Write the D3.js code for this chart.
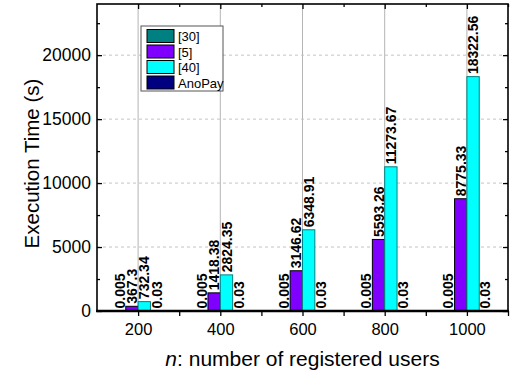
<!DOCTYPE html>
<html>
<head>
<meta charset="utf-8">
<script src="https://cdn.jsdelivr.net/npm/d3@7"></script>
<style>
  html, body { margin: 0; padding: 0; background: #fff; }
  svg { display: block; font-family: "Liberation Sans", Arial, Helvetica, sans-serif; }
</style>
</head>
<body>
<svg id="chart" width="514" height="375"></svg>
<script>
// Number of registered users on the x axis
const users = [200, 400, 600, 800, 1000];

// Execution time in seconds for each scheme
const seriesNames = ["[30]", "[5]", "[40]", "AnoPay"];
const timesRef30 = [0.005, 0.005, 0.005, 0.005, 0.005];
const timesRef5 = [367.3, 1418.38, 3146.62, 5593.26, 8775.33];
const timesRef40 = [732.34, 2824.35, 6348.91, 11273.67, 18322.56];
const timesAnoPay = [0.03, 0.03, 0.03, 0.03, 0.03];

const yMajorTicks = [0, 5000, 10000, 15000, 20000];
const yMinorTicks = [2500, 7500, 12500, 17500, 22500];
const xMajorTicks = [200, 400, 600, 800, 1000];
const xMinorTicks = [300, 500, 700, 900, 1100];

const fills = ["#008080", "#8000ff", "#00ffff", "#000080"];
const strokes = ["#004848", "#000000", "#008080", "#000000"];

const allSeries = [timesRef30, timesRef5, timesRef40, timesAnoPay];

const svg = d3.select("#chart");
const plotLeft = 97, plotRight = 508, plotTop = 4, plotBottom = 311;

const x = d3.scaleLinear().domain([100, 1100]).range([plotLeft, plotRight]);
const y = d3.scaleLinear().domain([0, 24000]).range([plotBottom, plotTop]);
const barUnits = 30; // bar width in x-axis units

// Grid lines
const grid = svg.append("g");
grid.selectAll("line.v").data(xMajorTicks).join("line")
  .attr("x1", d => x(d)).attr("x2", d => x(d))
  .attr("y1", plotTop).attr("y2", plotBottom)
  .attr("stroke", "#b4b4b4").attr("stroke-width", 1);
grid.selectAll("line.h").data(yMajorTicks.filter(d => d > 0)).join("line")
  .attr("x1", plotLeft).attr("x2", plotRight)
  .attr("y1", d => y(d)).attr("y2", d => y(d))
  .attr("stroke", "#c4c4c4").attr("stroke-width", 1)
  .attr("stroke-dasharray", "3,3");

// Bars
const bars = svg.append("g");
allSeries.forEach((vals, si) => {
  const g = bars.append("g");
  g.selectAll("rect").data(vals.map((v, i) => ({ v, c: users[i] }))).join("rect")
    .attr("x", d => x(d.c + (si - 2) * barUnits))
    .attr("width", d => x(d.c + (si - 1) * barUnits) - x(d.c + (si - 2) * barUnits))
    .attr("y", d => y(d.v))
    .attr("height", d => y(0) - y(d.v))
    .attr("fill", fills[si])
    .attr("stroke", strokes[si])
    .attr("stroke-width", 1);
});

// Value labels above each bar
const labels = svg.append("g")
  .attr("font-weight", "bold").attr("font-size", 14).attr("fill", "#000");
allSeries.forEach((vals, si) => {
  labels.selectAll(null).data(vals.map((v, i) => ({ v, c: users[i] }))).join("text")
    .attr("transform", d => {
      const cx = x(d.c + (si - 1.5) * barUnits);
      return `translate(${cx},${y(d.v) - 2.5}) rotate(-90)`;
    })
    .attr("dy", "0.36em")
    .attr("text-anchor", "start")
    .text(d => String(d.v));
});

// Axes
const axisLeft = svg.append("g").attr("transform", `translate(${plotLeft},0)`)
  .call(d3.axisLeft(y).tickValues(yMajorTicks).tickSize(-5).tickPadding(6).tickFormat(d3.format("d")));
svg.append("g").attr("transform", `translate(${plotLeft},0)`)
  .call(d3.axisLeft(y).tickValues(yMinorTicks).tickSize(-3).tickFormat(""));
svg.append("g").attr("transform", `translate(${plotRight},0)`)
  .call(d3.axisRight(y).tickValues(yMajorTicks).tickSize(-5).tickFormat(""));
svg.append("g").attr("transform", `translate(${plotRight},0)`)
  .call(d3.axisRight(y).tickValues(yMinorTicks).tickSize(-3).tickFormat(""));

const axisBottom = svg.append("g").attr("transform", `translate(0,${plotBottom})`)
  .call(d3.axisBottom(x).tickValues(xMajorTicks).tickSize(5).tickPadding(7).tickFormat(d3.format("d")));
svg.append("g").attr("transform", `translate(0,${plotBottom})`)
  .call(d3.axisBottom(x).tickValues(xMinorTicks).tickSize(5).tickFormat(""));
svg.append("g").attr("transform", `translate(0,${plotTop})`)
  .call(d3.axisTop(x).tickValues(xMajorTicks).tickSize(-5).tickFormat(""));
svg.append("g").attr("transform", `translate(0,${plotTop})`)
  .call(d3.axisTop(x).tickValues(xMinorTicks).tickSize(-3).tickFormat(""));

svg.selectAll(".domain").remove();
svg.selectAll(".tick line").attr("stroke", "#000").attr("stroke-width", 1.3);
axisLeft.selectAll("text").attr("font-size", 17.5).attr("fill", "#000")
  .attr("font-family", "'Liberation Sans', Arial, sans-serif");
axisBottom.selectAll("text").attr("font-size", 16.5).attr("fill", "#000")
  .attr("font-family", "'Liberation Sans', Arial, sans-serif");

// Frame
svg.append("rect").attr("x", plotLeft).attr("y", plotTop)
  .attr("width", plotRight - plotLeft).attr("height", plotBottom - plotTop)
  .attr("fill", "none").attr("stroke", "#000").attr("stroke-width", 1.6);
svg.append("line").attr("x1", plotLeft - 1).attr("x2", plotRight + 1)
  .attr("y1", plotBottom).attr("y2", plotBottom)
  .attr("stroke", "#000").attr("stroke-width", 2.4);

// Axis titles
svg.append("text")
  .attr("transform", `translate(39,${(plotTop + plotBottom) / 2 + 6}) rotate(-90)`)
  .attr("text-anchor", "middle").attr("font-size", 20.5).attr("fill", "#000")
  .text("Execution Time (s)");

const xTitle = svg.append("text")
  .attr("x", (plotLeft + plotRight) / 2).attr("y", 366)
  .attr("text-anchor", "middle").attr("font-size", 21).attr("fill", "#000");
xTitle.append("tspan").attr("font-style", "italic").text("n");
xTitle.append("tspan").text(": number of registered users");

// Legend
const legend = svg.append("g").attr("transform", "translate(141,26)");
legend.append("rect").attr("width", 82).attr("height", 65)
  .attr("fill", "#fff").attr("stroke", "#555").attr("stroke-width", 1);
seriesNames.forEach((name, i) => {
  const row = legend.append("g").attr("transform", `translate(6,${3.5 + i * 15.5})`);
  row.append("rect").attr("width", 27).attr("height", 13)
    .attr("fill", fills[i]).attr("stroke", "#000").attr("stroke-width", 1);
  row.append("text").attr("x", 31).attr("y", 11.5)
    .attr("font-size", 13).attr("fill", "#000").text(name);
});
</script>
</body>
</html>
